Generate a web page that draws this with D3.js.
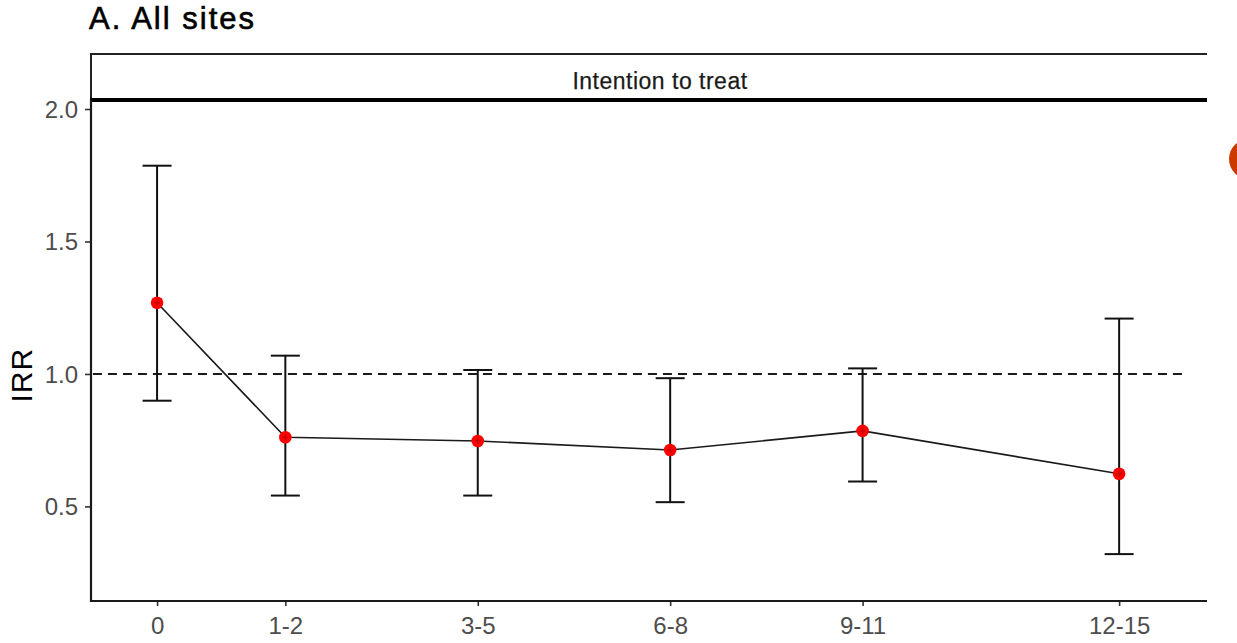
<!DOCTYPE html>
<html>
<head>
<meta charset="utf-8">
<script src="https://cdn.jsdelivr.net/npm/d3@7"></script>
<style>
  html, body { margin: 0; padding: 0; background: #ffffff; }
  svg { display: block; font-family: "Liberation Sans", Arial, sans-serif; }
</style>
</head>
<body>
<svg id="chart" width="1237" height="643"></svg>
<script>
// ---- data ----
const categories = ["0", "1-2", "3-5", "6-8", "9-11", "12-15"];
const xPositions = [0, 2, 5, 8, 11, 15];
const irr   = [1.269, 0.761, 0.747, 0.713, 0.785, 0.623];
const lower = [0.899, 0.541, 0.541, 0.516, 0.594, 0.320];
const upper = [1.786, 1.069, 1.015, 0.984, 1.021, 1.209];
const yTicks = [0.5, 1.0, 1.5, 2.0];
const refValue = 1.0;
const refRange = [-1, 16];
const titleText = "A. All sites";
const stripText = "Intention to treat";
const yTitle = "IRR";

const rows = categories.map((c, i) => ({ cat: c, x: xPositions[i], y: irr[i], lo: lower[i], hi: upper[i] }));

// ---- layout ----
const svg = d3.select("#chart");
const panel = { left: 91, right: 1207, top: 100, bottom: 601 };
const stripTop = 54;

const x = d3.scaleLinear().domain([-1.03, 16.37]).range([panel.left, panel.right]);
const y = d3.scaleLinear().domain([0.143, 2.034]).range([panel.bottom, panel.top]);

const fontFam = "Liberation Sans, Arial, sans-serif";

// title
svg.append("text")
  .attr("x", 89).attr("y", 29)
  .attr("font-size", 31).attr("fill", "#000")
  .attr("stroke", "#000").attr("stroke-width", 0.6)
  .attr("letter-spacing", 2)
  .text(titleText);

// strip (top, left borders + thick bottom line; cropped at right)
svg.append("line")
  .attr("x1", panel.left).attr("x2", panel.right)
  .attr("y1", stripTop).attr("y2", stripTop)
  .attr("stroke", "#222").attr("stroke-width", 2);
svg.append("line")
  .attr("x1", panel.left).attr("x2", panel.left)
  .attr("y1", stripTop - 1).attr("y2", panel.top)
  .attr("stroke", "#222").attr("stroke-width", 2);
svg.append("line")
  .attr("x1", panel.left - 1).attr("x2", panel.right)
  .attr("y1", panel.top).attr("y2", panel.top)
  .attr("stroke", "#000").attr("stroke-width", 3.8);
svg.append("text")
  .attr("x", 660).attr("y", 89)
  .attr("text-anchor", "middle")
  .attr("font-size", 23).attr("fill", "#1a1a1a")
  .attr("stroke", "#1a1a1a").attr("stroke-width", 0.25)
  .attr("letter-spacing", 0.5)
  .text(stripText);

// axes
const yAxis = d3.axisLeft(y).tickValues(yTicks).tickFormat(d3.format(".1f")).tickSize(6).tickPadding(7);
const gy = svg.append("g").attr("transform", `translate(${panel.left},0)`).call(yAxis);
gy.select(".domain").remove();
gy.selectAll(".tick line").attr("stroke", "#333").attr("stroke-width", 1.6);
gy.selectAll(".tick text").attr("font-size", 24).attr("fill", "#4d4d4d")
  .attr("font-family", fontFam).attr("dy", "0.34em");

const xAxis = d3.axisBottom(x).tickValues(xPositions).tickFormat((d, i) => categories[i]).tickSize(5).tickPadding(11);
const gx = svg.append("g").attr("transform", `translate(0,${panel.bottom})`).call(xAxis);
gx.select(".domain").remove();
gx.selectAll(".tick line").attr("stroke", "#333").attr("stroke-width", 1.6);
gx.selectAll(".tick text").attr("font-size", 24).attr("fill", "#4d4d4d")
  .attr("font-family", fontFam);

// axis lines
svg.append("line")
  .attr("x1", panel.left).attr("x2", panel.left)
  .attr("y1", panel.top).attr("y2", panel.bottom + 1)
  .attr("stroke", "#1a1a1a").attr("stroke-width", 2.2);
svg.append("line")
  .attr("x1", panel.left - 1).attr("x2", panel.right)
  .attr("y1", panel.bottom).attr("y2", panel.bottom)
  .attr("stroke", "#1a1a1a").attr("stroke-width", 2.2);

// y title
svg.append("text")
  .attr("transform", `translate(32,${y(0.995)}) rotate(-90)`)
  .attr("text-anchor", "middle")
  .attr("font-size", 30).attr("fill", "#000")
  .attr("letter-spacing", 1)
  .text(yTitle);

// reference dashed line
svg.append("line")
  .attr("x1", x(refRange[0])).attr("x2", x(refRange[1]))
  .attr("y1", y(refValue)).attr("y2", y(refValue))
  .attr("stroke", "#1a1a1a").attr("stroke-width", 2)
  .attr("stroke-dasharray", "9,6");

// connecting line
svg.append("path")
  .datum(rows)
  .attr("d", d3.line().x(d => x(d.x)).y(d => y(d.y)))
  .attr("fill", "none").attr("stroke", "#1a1a1a").attr("stroke-width", 1.6);

// error bars
const cap = 14.5;
const eb = svg.append("g").selectAll("g").data(rows).join("g");
eb.append("line")
  .attr("x1", d => x(d.x)).attr("x2", d => x(d.x))
  .attr("y1", d => y(d.lo)).attr("y2", d => y(d.hi))
  .attr("stroke", "#111").attr("stroke-width", 2);
eb.append("line")
  .attr("x1", d => x(d.x) - cap).attr("x2", d => x(d.x) + cap)
  .attr("y1", d => y(d.hi)).attr("y2", d => y(d.hi))
  .attr("stroke", "#111").attr("stroke-width", 2);
eb.append("line")
  .attr("x1", d => x(d.x) - cap).attr("x2", d => x(d.x) + cap)
  .attr("y1", d => y(d.lo)).attr("y2", d => y(d.lo))
  .attr("stroke", "#111").attr("stroke-width", 2);

// points
svg.append("g").selectAll("circle").data(rows).join("circle")
  .attr("cx", d => x(d.x)).attr("cy", d => y(d.y))
  .attr("r", 6.3).attr("fill", "#ff0000");
svg.append("g").selectAll("path.cross").data(rows).join("path")
  .attr("d", d => `M${x(d.x) - 3},${y(d.y)}H${x(d.x) + 3}M${x(d.x)},${y(d.y) - 3}V${y(d.y) + 3}`)
  .attr("stroke", "#8b0000").attr("stroke-width", 1).attr("opacity", 0.6);

// orange marker at right edge
svg.append("circle")
  .attr("cx", 1249).attr("cy", 159).attr("r", 20)
  .attr("fill", "#cc3a00");
</script>
</body>
</html>
